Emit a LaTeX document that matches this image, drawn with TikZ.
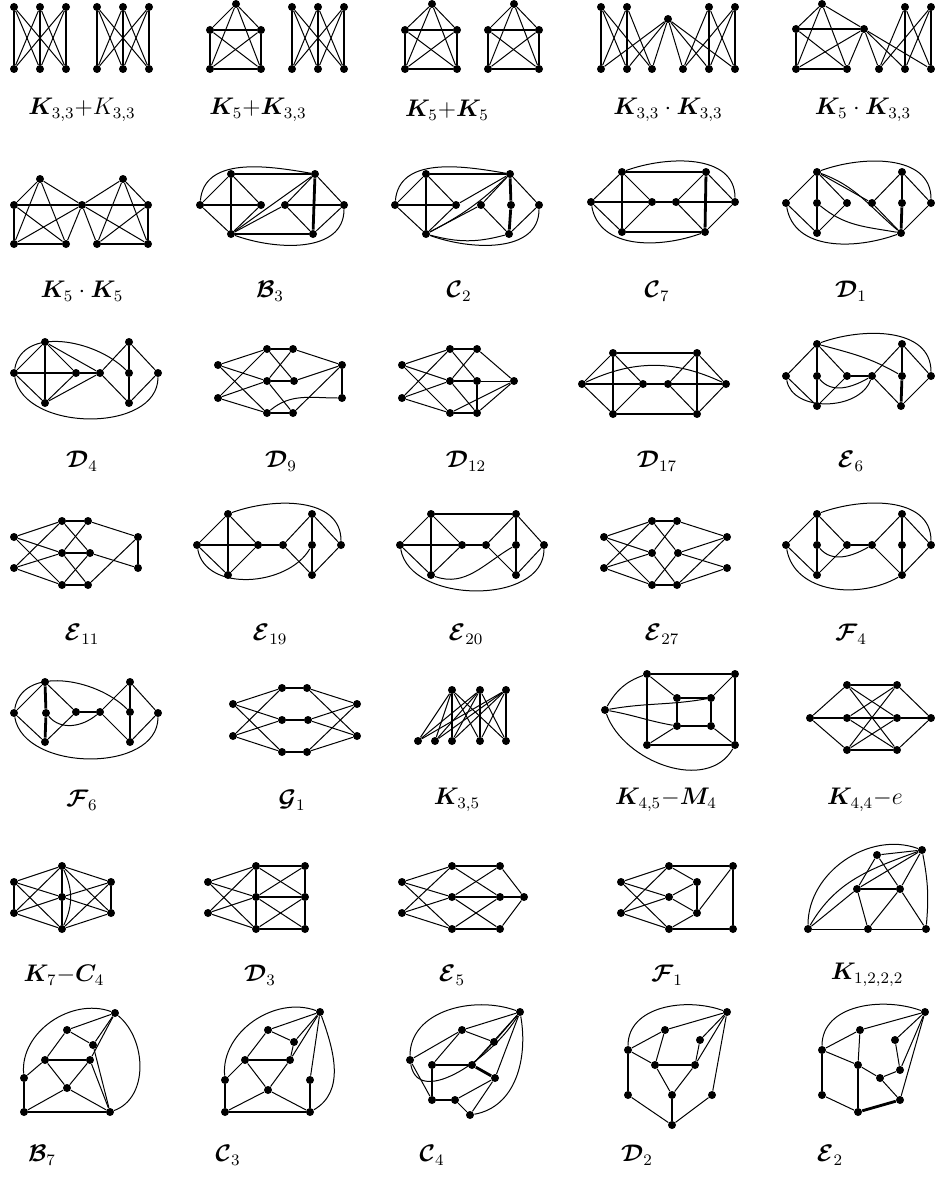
\documentclass[tikz,border=0pt]{standalone}
\usepackage{amsmath,bm}
\newcommand\vset[2]{\foreach \n/\x/\y in {#2} \node[dot] (#1\n) at (\x,\y) {};}
\newcommand\hset[2]{\foreach \u/\v in {#2} \draw[heavy] (#1\u) -- (#1\v);}
\newcommand\lset[2]{\foreach \u/\v in {#2} \draw[light] (#1\u) -- (#1\v);}
\begin{document}
\begin{tikzpicture}[x=0.5pt, y=-0.5pt,
  dot/.style={circle, fill, inner sep=0pt, minimum size=4pt},
  heavy/.style={line width=1.4pt},
  light/.style={line width=0.5pt},
  lab/.style={font=\large}
]
\useasboundingbox (0,0) rectangle (935,1188);
% row 1
\vset{ka}{a/14/7,b/40/7,c/66/7,d/14/69,e/40/69,f/66/69}
\hset{ka}{a/d,b/e,c/f}
\lset{ka}{a/e,a/f,b/d,b/f,c/d,c/e}
\vset{kb}{a/97/7,b/123/7,c/149/7,d/97/69,e/123/69,f/149/69}
\hset{kb}{a/d,b/e,c/f}
\lset{kb}{a/e,a/f,b/d,b/f,c/d,c/e}
\vset{kc}{t/236/4,p/210/30,q/261/30,r/210/69,s/261/69}
\hset{kc}{p/q,p/r,r/s,q/s}
\lset{kc}{t/p,t/q,t/r,t/s,p/s,q/r}
\vset{kd}{a/292/7,b/318/7,c/344/7,d/292/69,e/318/69,f/344/69}
\hset{kd}{a/d,b/e,c/f}
\lset{kd}{a/e,a/f,b/d,b/f,c/d,c/e}
\vset{ke}{t/432/4,p/405/30,q/457/30,r/405/69,s/457/69}
\hset{ke}{p/q,p/r,r/s,q/s}
\lset{ke}{t/p,t/q,t/r,t/s,p/s,q/r}
\vset{kf}{t/514/4,p/488/30,q/539/30,r/488/69,s/539/69}
\hset{kf}{p/q,p/r,r/s,q/s}
\lset{kf}{t/p,t/q,t/r,t/s,p/s,q/r}
\vset{kg}{a/601/7,b/627/7,c/668/19,h/709/7,i/735/7,d/601/69,e/627/69,f/652/69,j/683/69,k/709/69,l/735/69}
\hset{kg}{a/d,b/e,h/k,i/l}
\lset{kg}{a/e,a/f,b/d,b/f,c/d,c/e,c/f,c/j,c/k,c/l,h/j,h/l,i/j,i/k}
\vset{kh}{t/822/4,p/796/29,s/864/29,r/796/69,q/847/69,h/905/7,i/931/7,j/879/69,k/905/69,l/931/69}
\hset{kh}{p/s,p/r,r/q,h/k,i/l}
\lset{kh}{t/p,t/s,t/r,t/q,p/q,s/r,s/q,s/j,s/k,s/l,h/j,h/l,i/j,i/k}
\node[lab] (lka) at (82,110) {$\bm{K}_{3,3}{+}K_{3,3}$};
\node[lab] (lkc) at (258,110) {$\bm{K}_5{+}\bm{K}_{3,3}$};
\node[lab] (lke) at (447,110) {$\bm{K}_5{+}\bm{K}_5$};
\node[lab] (lkg) at (668,110) {$\bm{K}_{3,3}\cdot\bm{K}_{3,3}$};
\node[lab] (lkh) at (863,110) {$\bm{K}_5\cdot\bm{K}_{3,3}$};
% row 2
\vset{ki}{t/40/179,l/14/205,s/82/205,a/14/244,b/66/244,u/123/179,r/148/205,c/97/244,d/148/244}
\hset{ki}{l/s,s/r,l/a,a/b,r/d,c/d}
\lset{ki}{t/l,t/s,t/a,t/b,l/b,s/a,s/b,u/s,u/r,u/c,u/d,s/d,r/c,s/c}
\vset{kj}{l/200/205,p/231/174,q/231/234,a/261/205,b/285/205,r/315/174,s/313/234,z/344/205}
\hset{kj}{p/r,p/q,q/s,r/s,l/a,b/z}
\lset{kj}{l/p,l/q,p/a,q/a,q/r,q/b,b/r,b/s,r/z,s/z}
\draw[light] (kjl) to[out=85,in=170] (kjr);
\draw[light] (kjq) to[out=-20,in=-90] (kjz);
\vset{kk}{l/395/205,p/426/174,q/426/234,a/456/205,b/481/205,r/510/174,c/511/205,s/509/234,z/539/205}
\hset{kk}{p/r,p/q,l/a,r/c,c/s}
\lset{kk}{l/p,l/q,p/a,q/a,a/r,q/b,b/r,b/s,r/z,s/z}
\draw[light] (kkq) to[bend right=8] (kkr);
\draw[light] (kkq) to[bend right=15] (kks);
\draw[light] (kkl) to[out=85,in=170] (kkr);
\draw[light] (kkq) to[out=-20,in=-90] (kkz);
\vset{kl}{l/591/202,p/622/172,q/622/232,a/652/202,b/676/202,r/706/172,s/705/232,z/735/202}
\hset{kl}{p/r,q/s,p/q,r/s,l/a,a/b,b/z}
\lset{kl}{l/p,l/q,p/a,q/a,b/r,b/s,r/z,s/z}
\draw[light] (klp) to[out=20,in=90] (klz);
\draw[light] (kll) to[out=-80,in=-160] (kls);
\vset{km}{l/786/203,p/817/172,a/817/203,q/817/233,b/847/203,c/872/203,r/902/172,d/902/203,s/901/233,z/931/203}
\hset{km}{p/a,a/q,r/d,d/s}
\lset{km}{l/p,l/q,p/b,q/b,p/c,c/r,c/s,r/z,s/z}
\draw[light] (kmp) to[out=20,in=90] (kmz);
\draw[light] (kmp) to[out=-20,in=140] (kms);
\draw[light] (kma) to[out=-40,in=170] (kms);
\draw[light] (kml) to[out=-80,in=-160] (kms);
\node[lab] (lki) at (82,291) {$\bm{K}_5\cdot\bm{K}_5$};
\node[lab] (lkj) at (270,291) {$\bm{\mathcal{B}}_3$};
\node[lab] (lkk) at (459,291) {$\bm{\mathcal{C}}_2$};
\node[lab] (lkl) at (657,291) {$\bm{\mathcal{C}}_7$};
\node[lab] (lkm) at (851,291) {$\bm{\mathcal{D}}_1$};
% row 3
\vset{kn}{l/14/373,p/45/342,q/45/403,a/76/373,b/100/373,r/129/342,c/129/373,s/129/403,z/158/373}
\hset{kn}{l/a,p/q,a/b,r/c,c/s}
\lset{kn}{l/p,l/q,p/a,q/a,p/b,q/b,b/r,b/s,r/z,s/z}
\draw[light] (knl) to[out=80,in=135] (knc);
\draw[light] (knl) to[out=-80,in=-90] (knz);
\vset{ko}{l/218/365,m/218/398,t/267/349,u/293/349,a/267/381,b/294/381,p/267/413,q/293/413,r/342/365,s/342/398}
\hset{ko}{t/u,a/b,p/q,r/s}
\lset{ko}{l/t,l/a,l/p,m/t,m/a,m/p,t/b,u/a,u/r,b/r,a/q,q/r}
\draw[light] (kop) to[out=40,in=180] (kos);
\vset{kp}{l/402/365,m/402/398,t/450/349,a/450/381,p/450/413,u/477/349,b/477/381,q/477/413,r/514/381}
\hset{kp}{t/u,a/b,p/q,b/q}
\lset{kp}{l/t,l/a,l/p,m/t,m/a,m/p,u/a,t/b,a/q,u/r,b/r,q/r,p/r}
\vset{kq}{l/582/384,p/613/353,q/613/414,a/643/384,b/668/384,r/697/353,s/697/414,z/726/384}
\hset{kq}{p/r,q/s,p/q,r/s,l/a,a/b,b/z}
\lset{kq}{l/p,l/q,p/a,q/a,b/r,b/s,r/z,s/z}
\draw[light] (kql) to[out=25,in=155] (kqz);
\vset{kr}{l/786/376,p/817/344,a/817/376,q/817/406,b/847/376,c/872/376,r/902/344,d/902/376,s/901/406,z/931/376}
\hset{kr}{p/a,a/q,b/c,r/d,d/s}
\lset{kr}{l/p,l/q,p/b,q/b,c/r,c/s,r/z,s/z}
\draw[light] (krp) to[out=20,in=90] (krz);
\draw[light] (krp) to[out=-15,in=150] (krd);
\draw[light] (kra) to[out=-50,in=-150] (krc);
\draw[light] (krl) to[out=-80,in=-110] (krc);
\node[lab] (lkn) at (82,461) {$\bm{\mathcal{D}}_4$};
\node[lab] (lko) at (281,461) {$\bm{\mathcal{D}}_9$};
\node[lab] (lkp) at (466,461) {$\bm{\mathcal{D}}_{12}$};
\node[lab] (lkq) at (657,461) {$\bm{\mathcal{D}}_{17}$};
\node[lab] (lkr) at (851,461) {$\bm{\mathcal{E}}_6$};
% row 4
\vset{ks}{l/14/537,m/14/568,t/62/521,u/88/521,a/62/553,b/90/553,p/62/585,q/88/585,r/138/537,s/138/568}
\hset{ks}{t/u,a/b,p/q,r/s}
\lset{ks}{l/t,l/a,l/p,m/t,m/a,m/p,t/b,u/a,u/r,b/s,a/q,b/p,q/r}
\vset{kt}{l/197/545,p/228/514,q/228/575,a/258/545,b/283/545,r/312/514,c/312/545,s/312/575,z/341/545}
\hset{kt}{p/q,l/a,a/b,r/c,c/s}
\lset{kt}{l/p,l/q,p/a,q/a,b/r,b/s,r/z,s/z}
\draw[light] (ktp) to[out=20,in=90] (ktz);
\draw[light] (ktl) to[out=-80,in=-120] (ktc);
\vset{ku}{l/400/545,p/431/514,q/431/575,a/462/545,b/486/545,r/516/514,c/516/545,s/516/575,z/544/545}
\hset{ku}{p/r,p/q,l/a,a/b,r/c,c/s}
\lset{ku}{l/p,l/q,p/a,q/a,b/r,b/s,r/z,s/z}
\draw[light] (kul) to[out=-80,in=-90] (kuz);
\draw[light] (kuc) to[out=-150,in=-20] (kuq);
\vset{kv}{l/604/537,m/604/568,t/652/521,u/677/521,a/652/553,b/678/553,p/652/585,q/677/585,r/727/537,s/727/568}
\hset{kv}{t/u,p/q}
\lset{kv}{l/t,l/a,l/p,m/t,m/a,m/p,t/b,u/a,a/q,b/p,u/r,b/r,b/s,q/s,q/r}
\vset{kw}{l/786/545,p/817/514,a/817/545,q/817/575,b/847/545,c/872/545,r/902/514,d/902/545,s/902/575,z/931/545}
\hset{kw}{p/a,a/q,b/c,r/d,d/s}
\lset{kw}{l/p,l/q,p/b,q/b,c/r,c/s,r/z,s/z}
\draw[light] (kwp) to[out=20,in=90] (kwz);
\draw[light] (kwa) to[out=-50,in=-150] (kwc);
\draw[light] (kwl) to[out=-80,in=-150] (kws);
\node[lab] (lks) at (82,634) {$\bm{\mathcal{E}}_{11}$};
\node[lab] (lkt) at (270,634) {$\bm{\mathcal{E}}_{19}$};
\node[lab] (lku) at (466,634) {$\bm{\mathcal{E}}_{20}$};
\node[lab] (lkv) at (662,634) {$\bm{\mathcal{E}}_{27}$};
\node[lab] (lkw) at (851,634) {$\bm{\mathcal{F}}_4$};
% row 5
\vset{kx}{l/14/713,p/45/682,a/46/713,q/45/742,b/76/712,c/100/712,r/130/682,d/130/712,s/130/742,z/158/713}
\hset{kx}{p/a,a/q,b/c,r/d,d/s}
\lset{kx}{l/p,l/q,p/b,q/b,c/r,c/s,r/z,s/z}
\draw[light] (kxl) to[out=80,in=135] (kxd);
\draw[light] (kxa) to[out=-50,in=-140] (kxc);
\draw[light] (kxl) to[out=-80,in=-90] (kxz);
\vset{ky}{l/233/704,m/233/736,t/282/688,u/307/688,a/282/720,b/308/720,p/282/752,q/307/752,r/357/704,s/357/736}
\hset{ky}{t/u,a/b,p/q}
\lset{ky}{l/t,l/a,l/p,m/t,m/a,m/p,r/u,r/b,r/q,s/u,s/b,s/q}
\vset{kz}{a/452/690,b/480/690,c/506/690,d/418/741,e/435/741,f/452/741,g/480/741,h/506/741}
\hset{kz}{a/f,b/g,c/h}
\lset{kz}{a/d,a/e,a/g,a/h,b/d,b/e,b/f,b/h,c/d,c/e,c/f,c/g}
\vset{la}{l/605/710,p/647/674,r/735/674,q/647/745,s/735/745,a/677/698,b/711/698,c/677/726,d/711/726}
\hset{la}{p/r,p/q,q/s,r/s,a/b,a/c,c/d,b/d}
\lset{la}{p/a,r/b,q/c,s/d}
\draw[light] (lal) to[out=60,in=200] (lap);
\draw[light] (lal) to[out=10,in=190] (lab);
\draw[light] (lal) to[out=-10,in=170] (lac);
\draw[light] (lal) to[out=-70,in=-120] (las);
\vset{lb}{l/810/718,t/847/685,u/897/685,a/847/718,b/897/718,r/931/718,p/847/750,q/897/750}
\hset{lb}{t/u,l/a,a/b,b/r,p/q}
\lset{lb}{l/t,l/p,r/u,r/q,t/b,u/a,a/q,b/p,t/q,u/p}
\node[lab] (lkx) at (82,800) {$\bm{\mathcal{F}}_6$};
\node[lab] (lky) at (292,800) {$\bm{\mathcal{G}}_1$};
\node[lab] (lkz) at (457,800) {$\bm{K}_{3,5}$};
\node[lab] (lla) at (666,800) {$\bm{K}_{4,5}{-}\bm{M}_4$};
\node[lab] (llb) at (865,800) {$\bm{K}_{4,4}{-}e$};
% row 6
\vset{lc}{t/62/866,l/14/882,r/111/882,m/62/897,p/14/913,s/111/913,b/62/929}
\hset{lc}{l/p,r/s,t/m,m/b}
\lset{lc}{t/l,t/r,t/p,t/s,b/l,b/r,b/p,b/s,m/l,m/r,m/p,m/s}
\draw[light] (lct) to[bend left=25] (lcb);
\vset{ld}{l/208/882,m/208/913,t/256/866,u/305/866,a/256/897,b/305/897,p/256/929,q/305/929}
\hset{ld}{t/u,t/a,a/p,u/b,b/q,p/q,a/b}
\lset{ld}{l/t,l/a,l/p,m/t,m/a,m/p,t/b,u/a,a/q,b/p}
\vset{le}{l/402/882,m/402/913,t/452/866,u/500/866,a/452/897,b/500/897,r/524/897,p/452/929,q/500/929}
\hset{le}{t/u,a/b,b/r,p/q}
\lset{le}{l/t,l/a,l/p,m/t,m/a,m/p,t/b,u/a,a/q,b/p,u/r,q/r}
\vset{lf}{l/621/882,m/621/913,t/669/866,a/669/897,p/669/929,c/697/882,d/697/913,r/733/866,s/733/929}
\hset{lf}{t/r,r/s,c/d,p/s}
\lset{lf}{l/t,l/a,m/a,m/p,l/p,m/t,t/c,a/c,r/d,a/d,p/d}
\vset{lg}{a/922/850,t/877/855,p/857/889,q/900/889,l/808/929,m/868/929,r/926/929}
\hset{lg}{p/q}
\lset{lg}{a/t,a/p,a/q,t/p,t/q,l/p,l/m,m/p,m/q,q/r,m/r}
\draw[light] (lgl) to[out=90,in=160] (lga);
\draw[light] (lga) to[bend left=8] (lgr);
\draw[light] (lgl) to[out=60,in=-160] (lga);
\node[lab] (llc) at (64,975) {$\bm{K}_7{-}\bm{C}_4$};
\node[lab] (lld) at (260,975) {$\bm{\mathcal{D}}_3$};
\node[lab] (lle) at (452,975) {$\bm{\mathcal{E}}_5$};
\node[lab] (llf) at (667,975) {$\bm{\mathcal{F}}_1$};
\node[lab] (llg) at (867,975) {$\bm{K}_{1,2,2,2}$};
% row 7
\vset{lh}{a/115/1013,b/67/1030,c/93/1045,d/45/1060,e/90/1060,f/24/1078,g/24/1112,h/67/1088,i/110/1112}
\hset{lh}{d/e,f/g,g/i}
\lset{lh}{a/b,a/c,a/e,b/d,b/c,d/h,e/h,h/g,h/i,f/d,c/i,e/i}
\draw[light] (lhf) to[out=95,in=160] (lha);
\draw[light] (lha) to[out=-40,in=20] (lhi);
\vset{li}{a/320/1012,b/268/1030,c/294/1042,d/245/1060,e/290/1060,f/225/1080,g/225/1112,h/268/1090,i/310/1112,j/310/1080}
\hset{li}{d/e,f/g,g/i,i/j}
\lset{li}{a/b,a/c,a/e,a/j,b/d,b/c,d/h,e/h,h/g,h/i,f/d,c/e}
\draw[light] (lif) to[out=95,in=160] (lia);
\draw[light] (lia) to[out=-70,in=30] (lii);
\vset{lj}{a/520/1012,b/462/1030,c/494/1042,d/432/1065,e/472/1065,f/432/1100,g/455/1100,h/495/1078,i/470/1115,k/410/1060}
\hset{lj}{d/e,d/f,f/g,e/h}
\lset{lj}{a/b,a/c,a/e,a/h,b/d,b/c,c/e,g/i,h/i,g/h,k/b,k/f}
\draw[light] (ljk) to[out=90,in=160] (lja);
\draw[light] (lja) to[out=-80,in=10] (lji);
\draw[light] (ljk) to[out=-80,in=-120] (lja);
\vset{lk}{a/727/1012,b/665/1030,c/700/1040,d/628/1050,e/628/1095,f/655/1065,g/695/1065,h/672/1095,i/672/1125,j/712/1095}
\hset{lk}{f/g,h/i,e/d}
\lset{lk}{a/b,a/c,a/g,a/j,b/d,b/f,c/g,f/h,g/h,e/i,i/j,d/f}
\draw[light] (lkd) to[out=90,in=160] (lka);
\vset{ll}{a/925/1012,b/860/1030,c/895/1040,d/822/1050,e/822/1095,f/858/1065,g/880/1078,h/858/1112,i/900/1100,j/900/1070}
\hset{ll}{e/d,f/h,h/i}
\lset{ll}{a/b,a/c,a/j,a/i,b/d,b/f,c/j,f/g,g/j,g/i,e/h,d/f}
\draw[light] (lld) to[out=90,in=160] (lla);
\node[lab] (llh) at (42,1155) {$\bm{\mathcal{B}}_7$};
\node[lab] (lli) at (228,1155) {$\bm{\mathcal{C}}_3$};
\node[lab] (llj) at (432,1155) {$\bm{\mathcal{C}}_4$};
\node[lab] (llk) at (637,1155) {$\bm{\mathcal{D}}_2$};
\node[lab] (lll) at (830,1155) {$\bm{\mathcal{E}}_2$};
\end{tikzpicture}
\end{document}
